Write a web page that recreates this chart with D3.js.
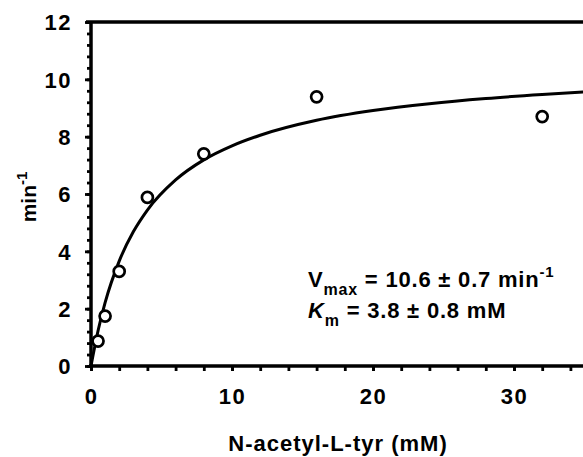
<!DOCTYPE html>
<html>
  <head>
    <meta charset="utf-8" />
    <script src="https://d3js.org/d3.v7.min.js"></script>
    <style>
      body {
        margin: 0px;
        background: #fff;
      }
      text {
        font-family: Arial, "Liberation Sans", sans-serif;
        font-weight: bold;
        fill: #000;
      }
    </style>
  </head>
  <body>
    <svg width="583" height="457"></svg>
    <script>
      // measured points
      const conc = [0.5, 1, 2, 4, 8, 16, 32];
      const rate = [0.87, 1.74, 3.3, 5.88, 7.4, 9.39, 8.7];

      // fitted curve
      const fitX = [0, 0.5, 1, 2, 3, 4, 6, 8, 10, 12, 16, 20, 24, 28, 32, 35];
      const fitY = [0, 1.23, 2.21, 3.66, 4.68, 5.44, 6.49, 7.19, 7.68, 8.05, 8.57, 8.91, 9.15, 9.33, 9.47, 9.56];

      const xTicks = [0, 10, 20, 30];
      const yTicks = [0, 2, 4, 6, 8, 10, 12];
      const xLabel = "N-acetyl-L-tyr (mM)";

      const svg = d3.select("svg");
      const width = +svg.attr("width");

      const x = d3.scaleLinear().domain([0, 35]).range([91, 91 + 35 * 14.1]);
      const y = d3.scaleLinear().domain([0, 12]).range([366, 22]);

      // minor ticks first (short), then major ones
      const xMinor = d3.range(0, 36, 2);
      const yMinor = d3.range(0, 12.01, 0.4);

      svg.append("g")
        .attr("transform", "translate(0,366)")
        .call(d3.axisBottom(x).tickValues(xMinor).tickSize(5).tickFormat(""))
        .call((g) => g.select(".domain").remove())
        .selectAll("line")
        .attr("stroke", "#000")
        .attr("stroke-width", 2.8);

      svg.append("g")
        .attr("transform", "translate(91,0)")
        .call(d3.axisLeft(y).tickValues(yMinor).tickSize(4).tickFormat(""))
        .call((g) => g.select(".domain").remove())
        .selectAll("line")
        .attr("stroke", "#000")
        .attr("stroke-width", 2.8);

      const xAxisG = svg.append("g")
        .attr("transform", "translate(0,366)")
        .call(d3.axisBottom(x).tickValues(xTicks).tickSize(5).tickPadding(15));
      xAxisG.select(".domain").remove();
      xAxisG.selectAll("line").attr("stroke", "#000").attr("stroke-width", 2.8);
      xAxisG.selectAll("text")
        .style("font-size", "22px")
        .style("letter-spacing", "1.5px")
        .attr("dy", "0.8em");

      const yAxisG = svg.append("g")
        .attr("transform", "translate(91,0)")
        .call(d3.axisLeft(y).tickValues(yTicks).tickSize(6).tickPadding(13));
      yAxisG.select(".domain").remove();
      yAxisG.selectAll("line").attr("stroke", "#000").attr("stroke-width", 2.8);
      yAxisG.selectAll("text")
        .style("font-size", "22px")
        .style("letter-spacing", "1.5px")
        .attr("dy", "0.36em");

      // axis lines and the top frame line
      svg.append("line")
        .attr("x1", 89).attr("x2", width)
        .attr("y1", y(0)).attr("y2", y(0))
        .attr("stroke", "#000").attr("stroke-width", 3.5);
      svg.append("line")
        .attr("x1", 91).attr("x2", 91)
        .attr("y1", y(12)).attr("y2", y(0) + 1.5)
        .attr("stroke", "#000").attr("stroke-width", 3.5);
      svg.append("line")
        .attr("x1", 86).attr("x2", width)
        .attr("y1", y(12)).attr("y2", y(12))
        .attr("stroke", "#000").attr("stroke-width", 3.5);

      // fit curve
      const line = d3.line()
        .x((d, i) => x(fitX[i]))
        .y((d) => y(d))
        .curve(d3.curveMonotoneX);
      svg.append("path")
        .attr("d", line(fitY))
        .attr("fill", "none")
        .attr("stroke", "#000")
        .attr("stroke-width", 3);

      // data points
      svg.selectAll("circle.pt")
        .data(conc)
        .enter()
        .append("circle")
        .attr("class", "pt")
        .attr("cx", (d) => x(d))
        .attr("cy", (d, i) => y(rate[i]))
        .attr("r", 5.5)
        .attr("fill", "#fff")
        .attr("stroke", "#000")
        .attr("stroke-width", 2.7);

      // axis titles
      svg.append("text")
        .attr("x", 338)
        .attr("y", 451)
        .style("font-size", "22px")
        .style("letter-spacing", "1px")
        .style("text-anchor", "middle")
        .text(xLabel);

      const yl = svg.append("text")
        .attr("transform", "translate(36,197) rotate(-90)")
        .style("font-size", "21px")
        .style("text-anchor", "middle");
      yl.append("tspan").text("min");
      yl.append("tspan").attr("dy", -9).style("font-size", "15px").text("-1");

      // fit parameters
      const t1 = svg.append("text")
        .attr("x", 308)
        .attr("y", 287)
        .style("font-size", "22px")
        .style("letter-spacing", "0.8px");
      t1.append("tspan").text("V");
      t1.append("tspan").attr("dy", 8).style("font-size", "16px").text("max");
      t1.append("tspan").attr("dy", -8).text(" = 10.6 ± 0.7 min");
      t1.append("tspan").attr("dy", -10).style("font-size", "15px").text("-1");

      const t2 = svg.append("text")
        .attr("x", 308)
        .attr("y", 318)
        .style("font-size", "22px")
        .style("letter-spacing", "0.8px");
      t2.append("tspan").style("font-style", "italic").text("K");
      t2.append("tspan").attr("dy", 8).style("font-size", "16px").text("m");
      t2.append("tspan").attr("dy", -8).text(" = 3.8 ± 0.8 mM");
    </script>
  </body>
</html>
